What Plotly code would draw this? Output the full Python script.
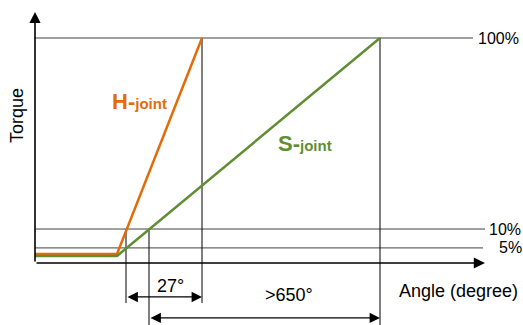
import plotly.graph_objects as go

# schematic units: x = angle (arbitrary), y = torque (arbitrary, 100 = 100%)
h_joint_x = [0, 82, 167]
h_joint_y = [4.0, 4.0, 100]
s_joint_x = [0, 82, 345]
s_joint_y = [3.1, 3.1, 100]

levels = [100, 15.1, 6.7]
level_labels = ["100%", "10%", "5%"]
level_ends = [438, 450, 448]
label_starts = [441, 452, 462]

# dimension guides: (x, top y, bottom y)
guides = [(91, 15.1, -17.8), (114, 15.1, -27.6), (167, 100, -17.8), (345, 100, -27.6)]
# dimension arrows: (from x, to x, y, label, label x, label y)
dims = [(91, 167, -15.1, "27°", 135, -10.4), (114, 345, -24.4, "&gt;650°", 254, -14.2)]

ORANGE = "#E36C0A"
GREEN = "#5F8E33"
FONT = "Liberation Sans, Arial, sans-serif"

fig = go.Figure()

fig.add_trace(go.Scatter(x=h_joint_x, y=h_joint_y, mode="lines",
                         line=dict(color=ORANGE, width=2.5), hoverinfo="skip"))
fig.add_trace(go.Scatter(x=s_joint_x, y=s_joint_y, mode="lines",
                         line=dict(color=GREEN, width=2.5), hoverinfo="skip"))

# level lines + labels
for lv, lab, end, lx in zip(levels, level_labels, level_ends, label_starts):
    fig.add_shape(type="line", x0=0, x1=end, y0=lv, y1=lv,
                  line=dict(color="#404040", width=1), layer="below")
    fig.add_annotation(x=lx, y=lv, text=lab, showarrow=False, xanchor="left",
                       font=dict(size=16, color="black", family=FONT))

# guide verticals
for gx, gt, gb in guides:
    fig.add_shape(type="line", x0=gx, x1=gx, y0=gb, y1=gt,
                  line=dict(color="black", width=1), layer="below")

# double arrows
for x0, x1, y, lab, lx, ly in dims:
    fig.add_annotation(x=x1, y=y, ax=x0, ay=y, xref="x", yref="y", axref="x", ayref="y",
                       text="", showarrow=True, arrowhead=2, startarrowhead=2,
                       arrowside="end+start", arrowsize=1.6, arrowwidth=1.3, arrowcolor="black")
    fig.add_annotation(x=lx, y=ly, text=lab, showarrow=False,
                       font=dict(size=18, color="black", family=FONT))

# axes with arrows
fig.add_annotation(x=450, y=0, ax=0, ay=0, xref="x", yref="y", axref="x", ayref="y",
                   text="", showarrow=True, arrowhead=2, arrowsize=1.4, arrowwidth=1.6,
                   arrowcolor="black")
fig.add_annotation(x=0, y=111.6, ax=0, ay=0, xref="x", yref="y", axref="x", ayref="y",
                   text="", showarrow=True, arrowhead=2, arrowsize=1.4, arrowwidth=1.6,
                   arrowcolor="black")

fig.add_annotation(x=362, y=-12.4, text="Angle (degree)", showarrow=False, xanchor="left",
                   font=dict(size=18, color="black", family=FONT))
fig.add_annotation(x=-18, y=65.3, text="Torque", showarrow=False, textangle=-90,
                   font=dict(size=18, color="black", family=FONT))

fig.add_annotation(x=104, y=72, text="<b>H-<span style='font-size:15px'>joint</span></b>",
                   showarrow=False, font=dict(size=22, color=ORANGE, family=FONT))
fig.add_annotation(x=270, y=53.3, text="<b>S-<span style='font-size:15px'>joint</span></b>",
                   showarrow=False, font=dict(size=22, color=GREEN, family=FONT))

fig.update_layout(
    width=523, height=325,
    margin=dict(l=0, r=0, t=0, b=0),
    paper_bgcolor="white", plot_bgcolor="white",
    showlegend=False,
    xaxis=dict(range=[-35, 488], visible=False, fixedrange=True),
    yaxis=dict(range=[-27.56, 116.89], visible=False, fixedrange=True),
)

# drop the page's default body margin so the figure fills the window
fig.write_html("out.html", config={"displayModeBar": False},
               post_script="document.body.style.margin = '0';")
